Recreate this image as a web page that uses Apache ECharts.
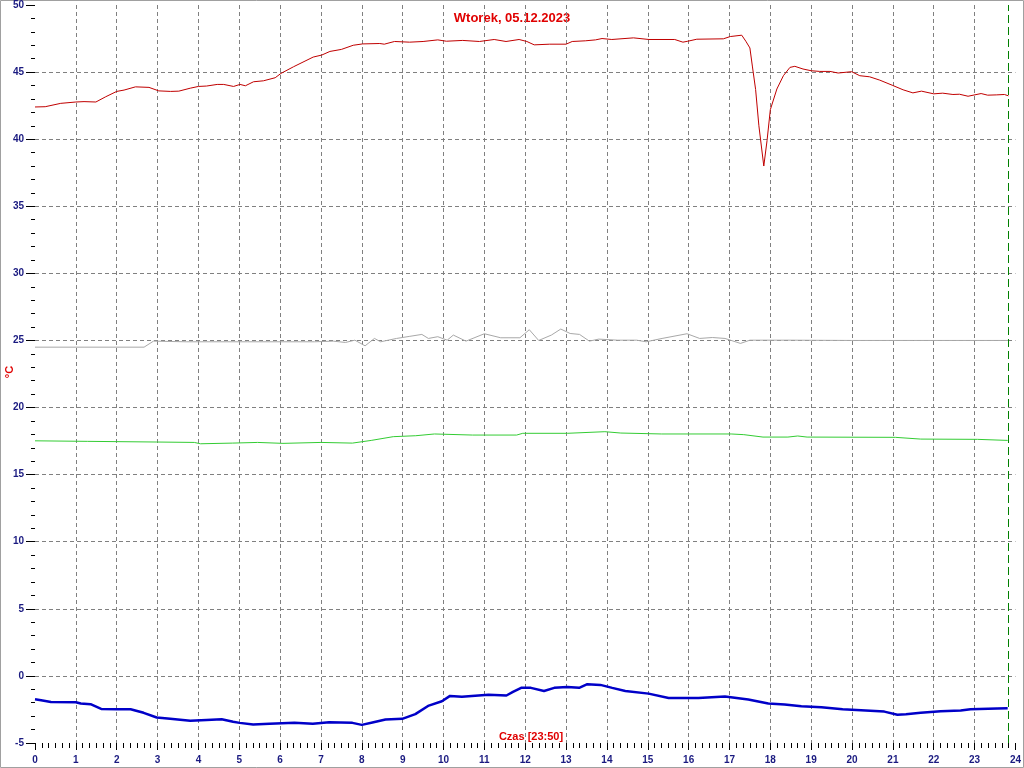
<!DOCTYPE html>
<html>
<head>
<meta charset="utf-8">
<script src="https://cdn.jsdelivr.net/npm/echarts@6/dist/echarts.min.js"></script>
<style>html,body{margin:0;padding:0;background:#fff}#c{width:1024px;height:768px}</style>
</head>
<body>
<div id="c"></div>
<script>
const title = 'Wtorek, 05.12.2023';
const xLabel = 'Czas [23:50]';
const yLabel = '°C';
const nowHour = 23 + 50 / 60;

const redT = [0,0.25,0.63,1.0,1.2,1.49,1.73,2.0,2.18,2.46,2.79,3.03,3.32,3.52,3.8,4.0,4.2,4.46,4.62,4.86,5.02,5.15,5.35,5.59,5.88,6.02,6.33,6.81,7.02,7.22,7.5,7.79,8.02,8.44,8.55,8.8,9.17,9.5,9.86,10.07,10.47,10.88,11.24,11.53,11.85,12.04,12.22,12.6,13.0,13.15,13.47,13.72,13.88,14.12,14.65,15.03,15.66,15.86,15.98,16.2,16.85,17.02,17.3,17.4,17.5,17.56,17.64,17.72,17.84,17.92,18.0,18.16,18.32,18.48,18.6,18.8,19.0,19.21,19.46,19.66,19.99,20.19,20.43,20.68,21.0,21.25,21.49,21.7,22.0,22.22,22.47,22.63,22.84,23.16,23.32,23.53,23.73,23.83];
const redV = [42.4,42.42,42.67,42.77,42.8,42.77,43.16,43.56,43.66,43.9,43.86,43.6,43.56,43.58,43.8,43.93,43.96,44.08,44.08,43.93,44.08,43.98,44.28,44.35,44.58,44.9,45.4,46.12,46.27,46.54,46.69,47.0,47.1,47.13,47.08,47.28,47.23,47.28,47.4,47.3,47.36,47.28,47.43,47.28,47.43,47.28,47.03,47.08,47.08,47.28,47.33,47.4,47.5,47.43,47.55,47.43,47.43,47.23,47.3,47.45,47.48,47.65,47.75,47.3,46.8,45.45,43.7,41.0,38.0,39.9,42.2,43.74,44.73,45.35,45.43,45.23,45.1,45.05,45.05,44.93,45.03,44.73,44.65,44.4,44.0,43.68,43.45,43.58,43.38,43.43,43.33,43.35,43.2,43.4,43.28,43.3,43.33,43.23];

const grayT = [0,1.2,2.67,2.9,3.7,5.2,6.84,7.3,7.6,7.83,8.08,8.31,8.46,8.85,9.16,9.47,9.63,9.86,10.09,10.24,10.55,11.0,11.4,11.87,12.1,12.33,12.64,12.87,13.1,13.33,13.57,13.8,14.26,14.73,14.96,15.35,15.96,16.27,16.58,16.89,17.27,17.5,18.43,19.98,21.5,23.83];
const grayV = [24.5,24.5,24.5,24.95,24.9,24.9,24.9,24.95,24.85,25.02,24.6,25.15,24.9,25.15,25.3,25.45,25.15,25.28,25.02,25.4,24.95,25.5,25.2,25.2,25.8,25.0,25.4,25.85,25.52,25.45,24.95,25.1,25.02,25.02,24.9,25.15,25.5,25.15,25.22,25.15,24.78,25.02,25.02,25.0,25.0,25.0];

const greenT = [0,1.28,2.98,3.9,4.05,4.83,5.45,6.07,7.0,7.77,8.23,8.77,9.32,9.78,10.71,11.79,11.94,13.03,13.95,14.34,15.34,17.04,17.35,17.82,18.43,18.67,18.9,21.06,21.68,23.07,23.81];
const greenV = [17.52,17.48,17.43,17.4,17.3,17.35,17.4,17.33,17.4,17.35,17.55,17.83,17.9,18.03,17.95,17.95,18.08,18.08,18.2,18.1,18.03,18.03,17.98,17.8,17.8,17.88,17.8,17.78,17.65,17.63,17.55];

const blueT = [0,0.15,0.39,1.0,1.12,1.36,1.62,2.0,2.34,2.66,2.98,3.31,3.8,4.2,4.57,4.85,5.01,5.34,5.74,6.35,6.8,7.2,7.77,8.0,8.26,8.58,8.99,9.31,9.64,9.96,10.16,10.45,11.1,11.54,11.7,11.9,12.14,12.46,12.71,13.03,13.32,13.52,13.84,14.13,14.45,15.02,15.51,16.24,16.89,17.46,17.95,18.35,18.76,19.25,19.77,20.22,20.79,21.11,21.32,21.68,22.17,22.66,22.9,23.55,23.81];
const blueV = [-1.74,-1.81,-1.94,-1.96,-2.06,-2.11,-2.46,-2.48,-2.48,-2.75,-3.1,-3.2,-3.35,-3.28,-3.23,-3.42,-3.5,-3.62,-3.57,-3.5,-3.57,-3.45,-3.5,-3.65,-3.47,-3.25,-3.2,-2.85,-2.21,-1.89,-1.49,-1.56,-1.41,-1.46,-1.19,-0.89,-0.89,-1.12,-0.89,-0.82,-0.89,-0.62,-0.67,-0.89,-1.12,-1.32,-1.64,-1.64,-1.54,-1.76,-2.06,-2.13,-2.26,-2.33,-2.48,-2.56,-2.66,-2.9,-2.85,-2.75,-2.63,-2.58,-2.48,-2.43,-2.41];

const zip = (t, v) => t.map((x, i) => [x, v[i]]);
const labelColor = '#1a1a80';
const font = 'Liberation Sans, Arial, sans-serif';

const chart = echarts.init(document.getElementById('c'), null, {renderer: 'canvas'});
chart.setOption({
  animation: false,
  backgroundColor: '#ffffff',
  grid: {left: 35, right: 5, top: 4, bottom: 25, containLabel: false},
  xAxis: {
    type: 'value', min: 0, max: 24, interval: 1,
    axisLine: {show: false, onZero: false},
    axisTick: {show: true, length: 7, lineStyle: {color: '#000', width: 1}},
    minorTick: {show: true, splitNumber: 6, length: 5, lineStyle: {color: '#000', width: 1}},
    axisLabel: {color: labelColor, fontFamily: font, fontWeight: 'bold', fontSize: 10, margin: 12},
    splitLine: {show: true, showMinLine: false, showMaxLine: false, lineStyle: {color: '#808080', type: [4, 3], width: 1}}
  },
  yAxis: {
    type: 'value', min: -5, max: 50, interval: 5,
    axisLine: {show: false, onZero: false},
    axisTick: {show: true, length: 9, lineStyle: {color: '#000', width: 1}},
    minorTick: {show: true, splitNumber: 5, length: 4, lineStyle: {color: '#000', width: 1}},
    axisLabel: {color: labelColor, fontFamily: font, fontWeight: 'bold', fontSize: 10, margin: 11},
    splitLine: {show: true, showMinLine: false, showMaxLine: false, lineStyle: {color: '#808080', type: [4, 3], width: 1}}
  },
  series: [
    {type: 'line', data: zip(grayT, grayV), symbol: 'none', lineStyle: {color: '#a8a8a8', width: 1}, z: 2},
    {type: 'line', data: zip(greenT, greenV), symbol: 'none', lineStyle: {color: '#33cc33', width: 1}, z: 3},
    {type: 'line', data: zip(redT, redV), symbol: 'none', lineStyle: {color: '#c00000', width: 1}, z: 4},
    {type: 'line', data: zip(blueT, blueV), symbol: 'none', lineStyle: {color: '#0000c8', width: 2.5}, z: 5,
      markLine: {silent: true, symbol: 'none', label: {show: false},
        lineStyle: {color: '#008000', type: [8, 4], width: 1},
        data: [{xAxis: nowHour}]}}
  ],
  graphic: [
    {type: 'rect', shape: {x: 0.5, y: 0.5, width: 1023, height: 767}, style: {fill: 'none', stroke: '#a0a0a0', lineWidth: 1}, silent: true},
    {type: 'text', x: 512, y: 18, style: {text: title, fill: '#e00000', font: 'bold 13px Liberation Sans, Arial, sans-serif', textAlign: 'center', textVerticalAlign: 'middle'}},
    {type: 'text', x: 531, y: 737, style: {text: xLabel, fill: '#e00000', font: 'bold 11px Liberation Sans, Arial, sans-serif', textAlign: 'center', textVerticalAlign: 'middle'}},
    {type: 'text', x: 10, y: 372, rotation: Math.PI / 2, style: {text: yLabel, fill: '#e00000', font: 'bold 11px Liberation Sans, Arial, sans-serif', textAlign: 'center', textVerticalAlign: 'middle'}}
  ]
});
</script>
</body>
</html>
